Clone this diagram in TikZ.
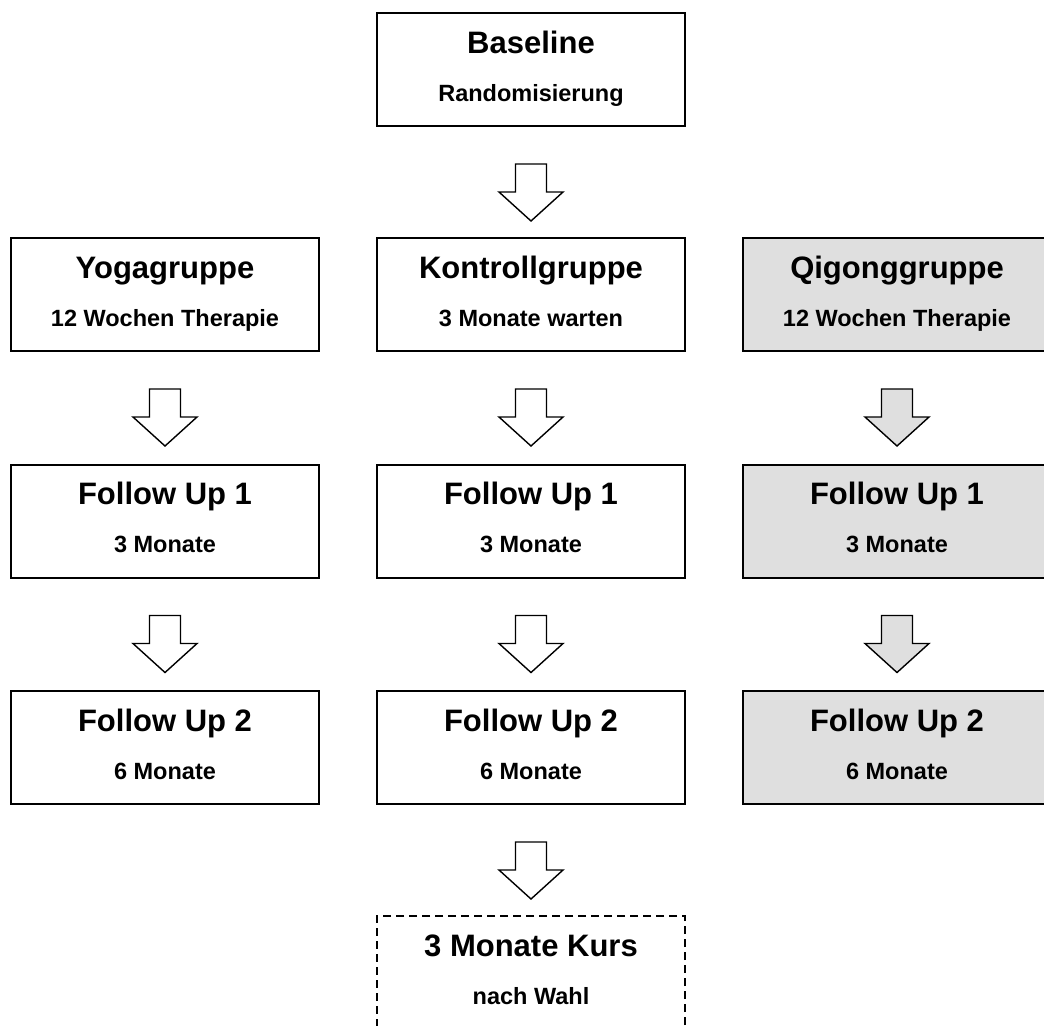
\documentclass[tikz,border=0pt]{standalone}
\usepackage{fontspec}
\setmainfont{Liberation Sans}
\usetikzlibrary{positioning}

\definecolor{qigonggray}{RGB}{223,223,223}

% box with a heading and a second line
\newcommand{\stagebox}[6]{%
  \node[#4] (#1) at (#2,#3) {};
  \node[headtext] (#1-head) at ([yshift=-20.5pt]#1.north) {#5};
  \node[subtext] (#1-sub) at ([yshift=-44.5pt]#1.north) {#6};
}
% hollow block arrow hanging down from a coordinate
\newcommand{\blockarrow}[2]{%
  \draw[#2] ([xshift=-7.75pt]#1) -- ++(0,-14pt) -- ++(-8.25pt,0) -- ++(16pt,-14.5pt)
    -- ++(16pt,14.5pt) -- ++(-8.25pt,0) -- ++(0,14pt) -- cycle;
}

\begin{document}
\begin{tikzpicture}[x=0.5pt, y=-0.5pt,
    stage/.style={draw, line width=1pt, minimum width=154pt, minimum height=56.5pt, inner sep=0pt},
    qigongstage/.style={stage, fill=qigonggray},
    optstage/.style={stage, dash pattern=on 4pt off 2.5pt},
    headtext/.style={anchor=base, inner sep=0pt, font=\bfseries\fontsize{15.5}{18}\selectfont},
    subtext/.style={anchor=base, inner sep=0pt, font=\bfseries\fontsize{11.75}{14}\selectfont},
    hollow/.style={draw, line width=0.7pt, fill=white},
    grayhollow/.style={hollow, fill=qigonggray}]
  \useasboundingbox (0,0) rectangle (1044,1025);

  \stagebox{base}{531}{69.5}{stage}{Baseline}{Randomisierung}

  \stagebox{yoga}{165}{294.5}{stage}{Yogagruppe}{12 Wochen Therapie}
  \stagebox{kontroll}{531}{294.5}{stage}{Kontrollgruppe}{3 Monate warten}
  \stagebox{qigong}{897}{294.5}{qigongstage}{Qigonggruppe}{12 Wochen Therapie}

  \stagebox{yogaA}{165}{521}{stage}{Follow Up 1}{3 Monate}
  \stagebox{kontrollA}{531}{521}{stage}{Follow Up 1}{3 Monate}
  \stagebox{qigongA}{897}{521}{qigongstage}{Follow Up 1}{3 Monate}

  \stagebox{yogaB}{165}{747.5}{stage}{Follow Up 2}{6 Monate}
  \stagebox{kontrollB}{531}{747.5}{stage}{Follow Up 2}{6 Monate}
  \stagebox{qigongB}{897}{747.5}{qigongstage}{Follow Up 2}{6 Monate}

  \stagebox{kurs}{531}{972.5}{optstage}{3 Monate Kurs}{nach Wahl}

  % arrows between the rows
  \foreach \src/\look in {base/hollow, yoga/hollow, kontroll/hollow, qigong/grayhollow,
      yogaA/hollow, kontrollA/hollow, qigongA/grayhollow, kontrollB/hollow} {
    \coordinate[below=18.5pt of \src] (\src-out);
    \blockarrow{\src-out}{\look}
  }
\end{tikzpicture}
\end{document}
